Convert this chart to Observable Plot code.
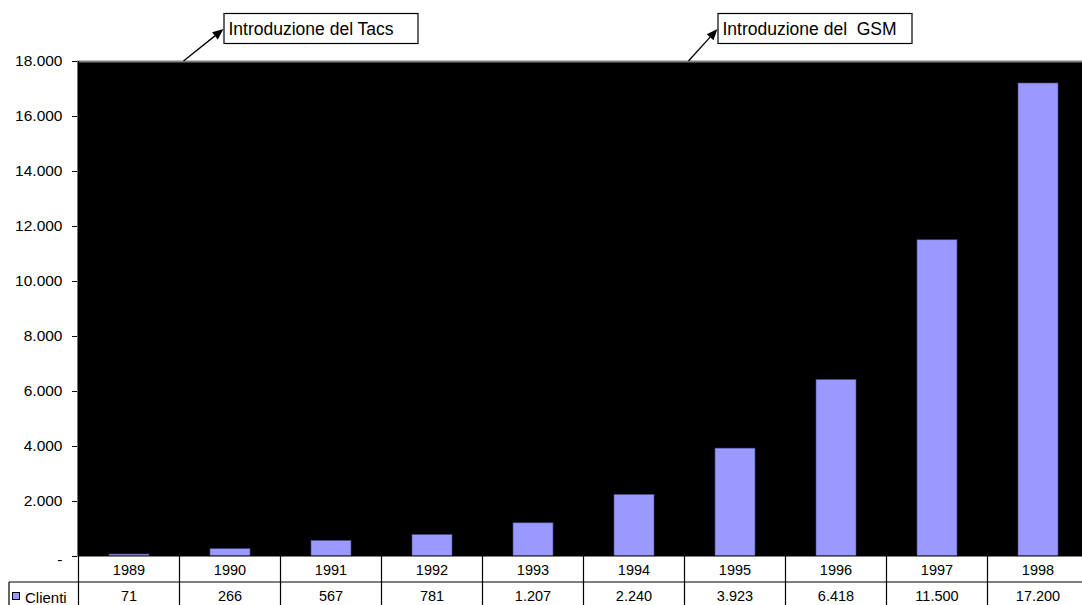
<!DOCTYPE html>
<html><head><meta charset="utf-8">
<script src="https://cdn.jsdelivr.net/npm/d3@7"></script>
<script src="https://cdn.jsdelivr.net/npm/@observablehq/plot@0.6"></script>
<style>
html,body{margin:0;padding:0;background:#fff;overflow:hidden;}
#chart svg{max-width:none !important;}
</style>
</head><body><div id="chart"></div>
<script>
const years = ["1989","1990","1991","1992","1993","1994","1995","1996","1997","1998"];
const clienti = [71,266,567,781,1207,2240,3923,6418,11500,17200];
const yTicks = [0,2000,4000,6000,8000,10000,12000,14000,16000,18000];
const seriesName = "Clienti";
const annotationYears = ["1990","1995"];
const annotationLabels = ["Introduzione del Tacs","Introduzione del  GSM"];

const FONT = "'Liberation Sans', Arial, sans-serif";
const loc = d3.formatLocale({decimal: ",", thousands: ".", grouping: [3], currency: ["", ""]});
const fmt = loc.format(",");
const yFmt = d => d === 0 ? "-" : fmt(d);

const data = years.map((y, i) => ({year: y, value: clienti[i]}));

const W = 1100, H = 612;
const plot = Plot.plot({
  width: W, height: H,
  marginLeft: 77, marginRight: 10, marginTop: 61, marginBottom: 56,
  style: {fontFamily: FONT, fontSize: "15.5px", color: "#000", background: "#fff", maxWidth: "none"},
  x: {domain: years, paddingInner: 0.6, paddingOuter: 0.3, axis: null},
  y: {domain: [0, 18000], ticks: yTicks, tickFormat: yFmt, tickSize: 5, tickPadding: 10, label: null},
  marks: [
    Plot.frame({fill: "black", stroke: "none"}),
    Plot.ruleY([yTicks[yTicks.length - 1]], {stroke: "#808080", strokeWidth: 2}),
    Plot.barY(data, {x: "year", y: "value", fill: "#9999ff", stroke: "#4a4a8a", strokeWidth: 0.6})
  ]
});
document.getElementById("chart").appendChild(plot);

const svg = d3.select(plot);
// y-axis tick labels (the only text Plot drew)
svg.selectAll("text").style("font-size", "15.5px").style("font-family", FONT)
  .each(function() {
    if (this.textContent === "-") {
      const t = this.getAttribute("transform") || "";
      this.setAttribute("transform", (t + " translate(0,4)").trim());
    }
  });

const xs = plot.scale("x");
const ys = plot.scale("y");
const step = xs.step, bw = xs.bandwidth;
const colLeft = d => xs.apply(d) + bw / 2 - step / 2;
const x0 = colLeft(years[0]);
const x1 = colLeft(years[years.length - 1]) + step;
const yBase = ys.apply(0);
const rowH = 26;
const legendLeft = 9;

const g = svg.append("g").style("font-family", FONT).style("font-size", "14.5px").attr("text-anchor", "start");
g.append("rect").attr("x", x0).attr("y", yBase).attr("width", x1 - x0).attr("height", rowH).attr("fill", "#fff");
g.append("rect").attr("x", legendLeft).attr("y", yBase + rowH).attr("width", x1 - legendLeft).attr("height", rowH + 10).attr("fill", "#fff");
const line = (a, b, c, d) => g.append("line").attr("x1", a).attr("y1", b).attr("x2", c).attr("y2", d).attr("stroke", "#000").attr("stroke-width", 1.2);
line(x0, yBase, x1, yBase);
line(legendLeft, yBase + rowH, x1, yBase + rowH);
line(legendLeft, yBase + rowH * 2, x1, yBase + rowH * 2);
line(x0, ys.apply(18000), x0, yBase + rowH * 2);
line(legendLeft, yBase + rowH, legendLeft, yBase + rowH * 2);
years.forEach((yr, i) => {
  const cx = colLeft(yr) + step;
  line(cx, yBase, cx, yBase + rowH * 2);
  const mid = colLeft(yr) + step / 2;
  g.append("text").attr("x", mid).attr("y", yBase + 19).attr("text-anchor", "middle").text(yr);
  g.append("text").attr("x", mid).attr("y", yBase + rowH + 19).attr("text-anchor", "middle").text(fmt(clienti[i]));
});
g.append("rect").attr("x", legendLeft + 3.5).attr("y", yBase + rowH + 10.5).attr("width", 7).attr("height", 7)
  .attr("fill", "#9999ff").attr("stroke", "#000").attr("stroke-width", 1);
g.append("text").attr("x", legendLeft + 16).attr("y", yBase + rowH + 21).attr("text-anchor", "start").style("font-size", "15px").text(seriesName);

const yTop = ys.apply(18000);
const arrowDx = [40, 29];
annotationYears.forEach((yr, i) => {
  const bx = colLeft(yr) + 4;
  const tipX = bx + arrowDx[i], tipY = 29;
  const a = svg.append("g").style("font-family", FONT).style("font-size", "17.5px").attr("text-anchor", "start");
  const ang = Math.atan2(tipY - yTop, tipX - bx);
  const L = 11, Wd = 4.5;
  const backX = tipX - L * Math.cos(ang), backY = tipY - L * Math.sin(ang);
  a.append("line").attr("x1", bx).attr("y1", yTop).attr("x2", backX).attr("y2", backY).attr("stroke", "#000").attr("stroke-width", 1.3);
  const px = -Math.sin(ang), py = Math.cos(ang);
  a.append("path").attr("d", `M${tipX},${tipY}L${backX + px * Wd},${backY + py * Wd}L${backX - px * Wd},${backY - py * Wd}Z`).attr("fill", "#000");
  a.append("rect").attr("x", tipX + 0.5).attr("y", 13.5).attr("width", 194).attr("height", 30).attr("fill", "#fff").attr("stroke", "#000").attr("stroke-width", 1.2);
  a.append("text").attr("x", tipX + 5).attr("y", 35).attr("text-anchor", "start").style("white-space", "pre").text(annotationLabels[i]);
});
</script></body></html>
